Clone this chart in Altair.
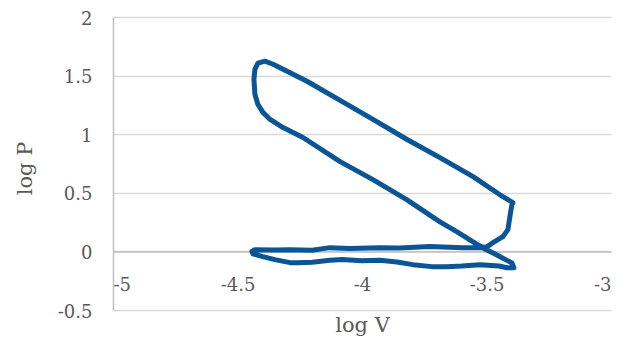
import altair as alt
import pandas as pd

# Traced loop (log V, log P), in drawing order
log_v = [
    -3.394, -3.446, -3.554, -3.687, -3.819, -3.956, -4.088, -4.221, -4.309, -4.357,
    -4.390, -4.418, -4.430, -4.434, -4.430, -4.418, -4.398, -4.369, -4.317, -4.237,
    -4.088, -3.956, -3.819, -3.687, -3.618, -3.554, -3.514, -3.458, -3.398, -3.390,
    -3.418, -3.450, -3.526, -3.600, -3.659, -3.720, -3.795, -3.860, -3.928, -4.000,
    -4.080, -4.129, -4.200, -4.260, -4.289, -4.350, -4.398, -4.438, -4.442, -4.430,
    -4.350, -4.289, -4.200, -4.129, -4.050, -3.928, -3.850, -3.727, -3.650, -3.594,
    -3.530, -3.498, -3.474, -3.434, -3.414, -3.406, -3.398, -3.394,
]
log_p = [
    0.416, 0.483, 0.638, 0.800, 0.955, 1.126, 1.289, 1.452, 1.546, 1.597,
    1.623, 1.606, 1.554, 1.469, 1.340, 1.254, 1.186, 1.126, 1.057, 0.972,
    0.766, 0.612, 0.440, 0.252, 0.166, 0.081, 0.029, -0.031, -0.099, -0.139,
    -0.139, -0.125, -0.113, -0.125, -0.130, -0.130, -0.113, -0.090, -0.075, -0.080,
    -0.070, -0.075, -0.093, -0.096, -0.096, -0.070, -0.045, -0.020, 0.000, 0.015,
    0.012, 0.015, 0.010, 0.032, 0.025, 0.032, 0.030, 0.041, 0.035, 0.032,
    0.032, 0.040, 0.075, 0.126, 0.186, 0.297, 0.399, 0.416,
]

x_ticks = [-5, -4.5, -4, -3.5, -3]
y_ticks = [-0.5, 0, 0.5, 1, 1.5, 2]

df = pd.DataFrame({"i": list(range(len(log_v))), "logV": log_v, "logP": log_p})

FONT = "DejaVu Serif"
TXT = "#595959"

chart = alt.Chart(df).mark_line(
    color="#0a5596", strokeWidth=5, strokeJoin="round", strokeCap="round"
).encode(
    x=alt.X(
        "logV:Q",
        scale=alt.Scale(domain=[-5, -3], nice=False, zero=False),
        axis=alt.Axis(
            values=x_ticks, title="log V", offset=-58.6, grid=False, ticks=False,
            labelPadding=25, labelExpr="toString(datum.value)",
            titleY=80, titleBaseline="alphabetic",
        ),
    ),
    y=alt.Y(
        "logP:Q",
        scale=alt.Scale(domain=[-0.5, 2], nice=False, zero=False),
        axis=alt.Axis(
            values=y_ticks, title="log P", grid=True, ticks=False,
            labelPadding=21, labelOffset=2, labelExpr="toString(datum.value)",
            titleX=-88, titleY=151, titleBaseline="middle", titleAlign="center",
        ),
    ),
    order="i:Q",
).properties(
    width=498,
    height=293,
    autosize=alt.AutoSizeParams(type="none"),
    padding={"left": 105, "top": 9, "right": 10, "bottom": 36},
    background="white",
).configure_view(
    stroke=None
).configure_axis(
    labelFont=FONT, labelFontSize=18, labelColor=TXT,
    titleFont=FONT, titleFontSize=21, titleColor=TXT, titleFontWeight="normal",
    domainColor="#bfbfbf", domainWidth=1.5,
    gridColor="#d9d9d9", gridWidth=1.5,
)

chart.save("out.html", embed_options={"renderer": "svg", "actions": False})
